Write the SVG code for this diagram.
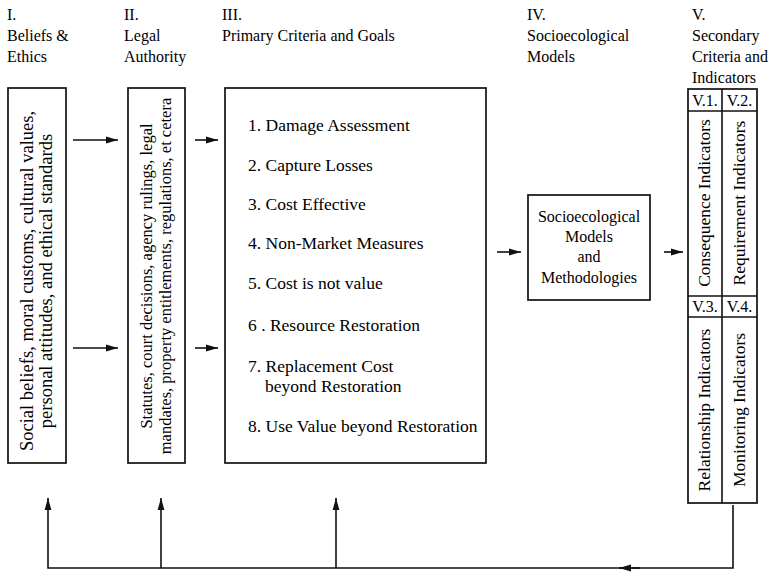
<svg xmlns="http://www.w3.org/2000/svg" width="768" height="572" viewBox="0 0 768 572">
<defs>
<style>
text{font-family:"Liberation Serif","Times New Roman",serif;fill:#000;}
.h{font-size:16px;}
.it{font-size:17.5px;}
.bx{fill:#fff;stroke:#111;stroke-width:1.7;}
.ln{fill:none;stroke:#111;stroke-width:1.6;}
.rt{font-size:17.5px;text-anchor:middle;}
.r1{font-size:18.5px;text-anchor:middle;}
.r2{font-size:16.5px;text-anchor:middle;}
.c{text-anchor:middle;}
</style>
<marker id="ah" viewBox="0 0 12 8" refX="12" refY="4" markerWidth="12" markerHeight="8" markerUnits="userSpaceOnUse" orient="auto">
<path d="M0,0.6 L12,4 L0,7.4 Z" fill="#111"/>
</marker>
</defs>
<rect width="768" height="572" fill="#fff"/>

<g id="headers">
<text class="h" x="7" y="20">I.</text>
<text class="h" x="7" y="41">Beliefs &amp;</text>
<text class="h" x="7" y="62">Ethics</text>
<text class="h" x="124" y="20">II.</text>
<text class="h" x="124" y="41">Legal</text>
<text class="h" x="124" y="62">Authority</text>
<text class="h" x="222" y="20">III.</text>
<text class="h" x="222" y="41">Primary Criteria and Goals</text>
<text class="h" x="527" y="20">IV.</text>
<text class="h" x="527" y="41">Socioecological</text>
<text class="h" x="527" y="62">Models</text>
<text class="h" x="692" y="20">V.</text>
<text class="h" x="692" y="41">Secondary</text>
<text class="h" x="692" y="62">Criteria and</text>
<text class="h" x="692" y="83">Indicators</text>
</g>

<g id="node-I">
<rect class="bx" x="8" y="88" width="58" height="375"/>
<text class="r1" transform="translate(33,281) rotate(-90)">Social beliefs, moral customs, cultural values,</text>
<text class="r1" transform="translate(52,281) rotate(-90)">personal attitudes, and ethical standards</text>
</g>

<g id="node-II">
<rect class="bx" x="128" y="88" width="57" height="375"/>
<text class="r2" transform="translate(152,276) rotate(-90)">Statutes, court decisions, agency rulings, legal</text>
<text class="r2" transform="translate(171,276) rotate(-90)">mandates, property entitlements, regulations, et cetera</text>
</g>

<g id="node-III">
<rect class="bx" x="225" y="88" width="261" height="375"/>
<text class="it" x="248" y="131">1.  Damage Assessment</text>
<text class="it" x="248" y="171">2.  Capture Losses</text>
<text class="it" x="248" y="210">3.  Cost Effective</text>
<text class="it" x="248" y="249">4.  Non-Market Measures</text>
<text class="it" x="248" y="289">5.  Cost is not value</text>
<text class="it" x="248" y="331">6 .  Resource Restoration</text>
<text class="it" x="248" y="372">7.  Replacement Cost</text>
<text class="it" x="265" y="392">beyond Restoration</text>
<text class="it" x="248" y="432">8.  Use Value beyond Restoration</text>
</g>

<g id="node-IV">
<rect class="bx" x="528" y="195" width="122" height="105"/>
<text class="h c" x="589" y="222">Socioecological</text>
<text class="h c" x="589" y="242">Models</text>
<text class="h c" x="589" y="262">and</text>
<text class="h c" x="589" y="283">Methodologies</text>
</g>

<g id="node-V">
<rect class="bx" x="688" y="89" width="69" height="414"/>
<line class="ln" x1="722" y1="89" x2="722" y2="503"/>
<line class="ln" x1="688" y1="111" x2="757" y2="111"/>
<line class="ln" x1="688" y1="296" x2="757" y2="296"/>
<line class="ln" x1="688" y1="317" x2="757" y2="317"/>
<text class="h c" x="705" y="106">V.1.</text>
<text class="h c" x="739.5" y="106">V.2.</text>
<text class="h c" x="705" y="312">V.3.</text>
<text class="h c" x="739.5" y="312">V.4.</text>
<text class="rt" transform="translate(710,203) rotate(-90)">Consequence Indicators</text>
<text class="rt" transform="translate(745,203) rotate(-90)">Requirement Indicators</text>
<text class="rt" transform="translate(710,410) rotate(-90)">Relationship Indicators</text>
<text class="rt" transform="translate(745,410) rotate(-90)">Monitoring Indicators</text>
</g>

<g id="connectors">
<line class="ln" x1="73" y1="140" x2="118" y2="140" marker-end="url(#ah)"/>
<line class="ln" x1="73" y1="348" x2="118" y2="348" marker-end="url(#ah)"/>
<line class="ln" x1="195" y1="140" x2="218" y2="140" marker-end="url(#ah)"/>
<line class="ln" x1="195" y1="348" x2="218" y2="348" marker-end="url(#ah)"/>
<line class="ln" x1="497" y1="252" x2="521" y2="252" marker-end="url(#ah)"/>
<line class="ln" x1="664" y1="252" x2="683" y2="252" marker-end="url(#ah)"/>
<path class="ln" d="M733,505 V568 H48 V498" marker-end="url(#ah)"/>
<line class="ln" x1="161" y1="568" x2="161" y2="498" marker-end="url(#ah)"/>
<line class="ln" x1="336" y1="568" x2="336" y2="498" marker-end="url(#ah)"/>
<line class="ln" x1="640" y1="568" x2="619" y2="568" marker-end="url(#ah)"/>
</g>
</svg>
